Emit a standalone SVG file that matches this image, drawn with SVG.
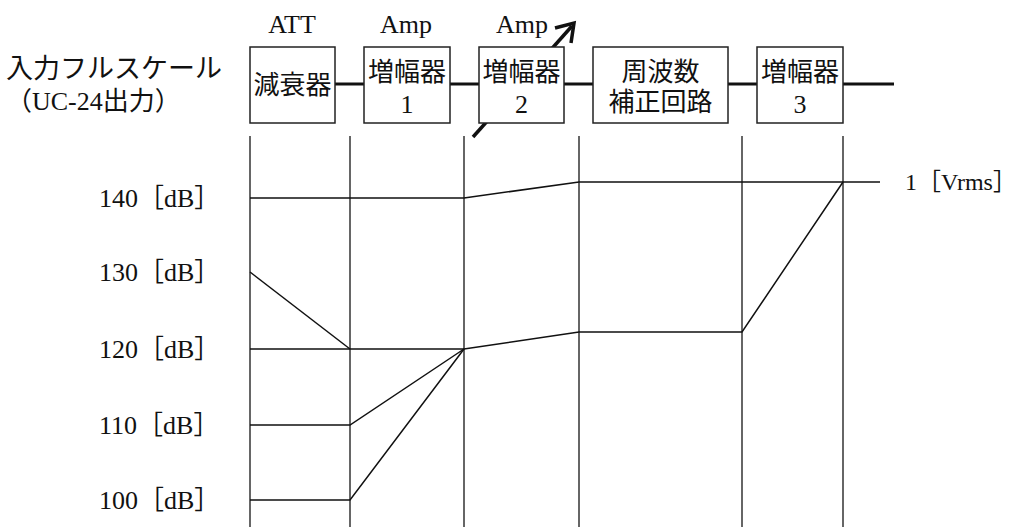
<svg xmlns="http://www.w3.org/2000/svg" width="1019" height="527" viewBox="0 0 1019 527">
<defs>
<style>
.box{fill:#fff;stroke:#222;stroke-width:1.5}
.wire{stroke:#111;stroke-width:3;fill:none}
.grid{stroke:#333;stroke-width:1.5;fill:none}
.lvl{stroke:#111;stroke-width:1.5;fill:none}
.t{font-family:"Liberation Serif","Noto Sans CJK JP",serif;font-size:26px;fill:#111}
.j{font-family:"Liberation Serif","Noto Sans CJK JP",serif;font-size:26px;fill:#111}
.big{font-size:27px}
.c{text-anchor:middle}
</style>
</defs>
<text class="j big" x="6" y="78">入力フルスケール</text>
<text class="j" x="6" y="110">（UC-24出力）</text>
<text class="t c" x="292" y="33">ATT</text>
<text class="t c" x="406" y="33">Amp</text>
<text class="t c" x="522" y="33">Amp</text>
<g id="connectors">
<line class="wire" x1="335" y1="84" x2="364" y2="84"/>
<line class="wire" x1="450" y1="84" x2="479" y2="84"/>
<line class="wire" x1="564" y1="84" x2="593" y2="84"/>
<line class="wire" x1="728" y1="84" x2="757" y2="84"/>
<line class="wire" x1="843" y1="84" x2="894" y2="84"/>
<line x1="473" y1="137" x2="572" y2="26" stroke="#111" stroke-width="3.5"/>
<path d="M555,28 L574,23 L571,43" fill="none" stroke="#111" stroke-width="3.5"/>
</g>
<g id="att"><rect class="box" x="250" y="47" width="85" height="76"/><text class="j c" x="292.5" y="94">減衰器</text></g>
<g id="amp1"><rect class="box" x="364" y="47" width="86" height="76"/><text class="j c" x="407" y="81">増幅器</text><text class="t c" x="407" y="113">1</text></g>
<g id="amp2"><rect class="box" x="479" y="47" width="85" height="76"/><text class="j c" x="521.5" y="81">増幅器</text><text class="t c" x="521.5" y="113">2</text></g>
<g id="eq"><rect class="box" x="593" y="47" width="135" height="76"/><text class="j c" x="660.5" y="81">周波数</text><text class="j c" x="660.5" y="111">補正回路</text></g>
<g id="amp3"><rect class="box" x="757" y="47" width="86" height="76"/><text class="j c" x="800" y="81">増幅器</text><text class="t c" x="800" y="113">3</text></g>
<g id="grid">
<line class="grid" x1="250" y1="136" x2="250" y2="527"/>
<line class="grid" x1="350" y1="136" x2="350" y2="527"/>
<line class="grid" x1="464" y1="136" x2="464" y2="527"/>
<line class="grid" x1="579" y1="136" x2="579" y2="527"/>
<line class="grid" x1="742" y1="136" x2="742" y2="527"/>
<line class="grid" x1="843" y1="136" x2="843" y2="527"/>
</g>
<g id="levels">
<polyline class="lvl" points="250,198 464,198 579,182 843,182 880,182"/>
<polyline class="lvl" points="250,272 350,349"/>
<polyline class="lvl" points="250,349 464,349 579,332 742,332 843,182"/>
<polyline class="lvl" points="250,425 350,425 464,349"/>
<polyline class="lvl" points="250,500 350,500 464,349"/>
</g>
<g id="labels">
<text class="t" x="99" y="207">140［dB］</text>
<text class="t" x="99" y="281">130［dB］</text>
<text class="t" x="99" y="358">120［dB］</text>
<text class="t" x="99" y="434">110［dB］</text>
<text class="t" x="99" y="509">100［dB］</text>
<text class="t" x="905" y="190" style="font-size:24px">1［Vrms］</text>
</g>
</svg>
